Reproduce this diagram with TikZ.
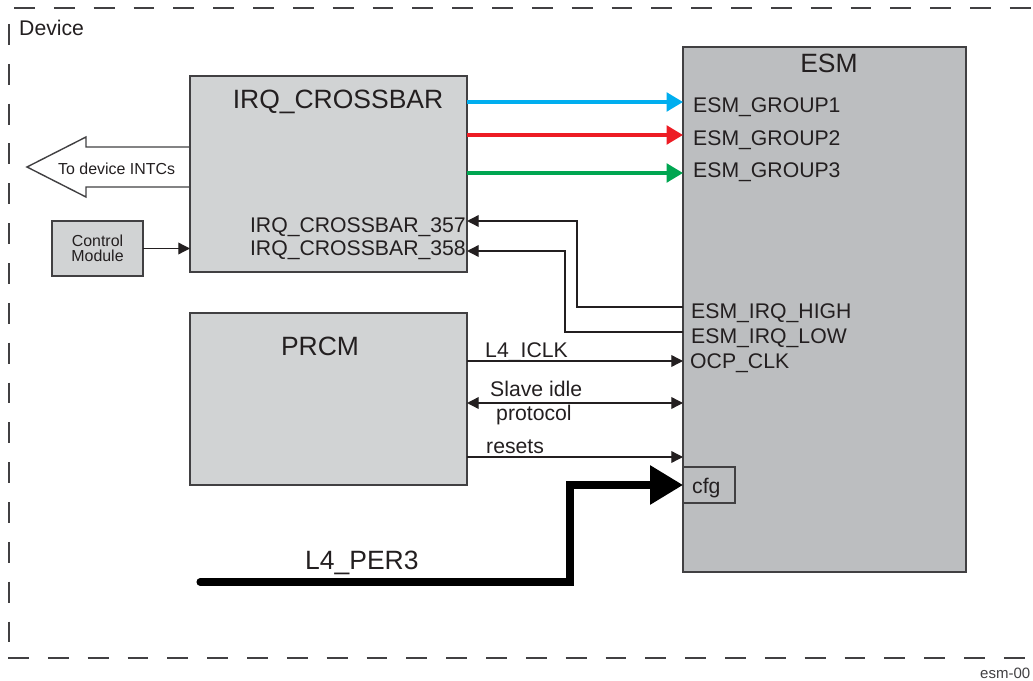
\documentclass[tikz,border=0pt]{standalone}
\usepackage{fontspec}
\setmainfont{Liberation Sans}
\usepackage{tikz}
\usetikzlibrary{arrows.meta,calc}
\definecolor{cInk}{HTML}{231F20}
\definecolor{cEdge}{HTML}{414042}
\definecolor{cGrayL}{HTML}{D1D3D4}
\definecolor{cGrayD}{HTML}{BCBEC0}
\definecolor{cBlue}{HTML}{00AEEF}
\definecolor{cRed}{HTML}{ED1C24}
\definecolor{cGreen}{HTML}{00A651}
\tikzset{
  blk/.style={draw=cEdge,fill=#1,line width=1.2pt,outer sep=0pt,inner sep=0pt},
  blk/.default=cGrayL,
  ttl/.style={inner sep=0pt,text=cInk,font=\fontsize{22.6}{24}\selectfont},
  sig/.style={inner sep=0pt,text=cInk,font=\fontsize{18.1}{20}\selectfont},
  sml/.style={inner sep=0pt,text=cInk,font=\fontsize{13.6}{13}\selectfont},
  arr/.style={-{Triangle[length=10pt,width=10pt]},line width=1.2pt,color=cInk},
  darr/.style={{Triangle[length=10pt,width=10pt]}-{Triangle[length=10pt,width=10pt]},line width=1.2pt,color=cInk},
  carr/.style={-{Triangle[length=14pt,width=16pt]},line width=2.6pt,color=#1},
  bus/.style={-{Triangle[length=28pt,width=32pt]},line width=6pt,line cap=round,color=black},
  border/.style={dash pattern=on 17.9pt off 16.1pt,line width=1.3pt,color=cEdge},
}

\begin{document}
\begin{tikzpicture}[x=0.03cm,y=-0.03cm]
    \useasboundingbox (0,0) rectangle (1033,681);
    % device frame (right side runs off the page)
    \draw[border] (14,8) -- (1040,8);
    \draw[border] (9,24) -- (9,648);
    \draw[border] (8,658) -- (1040,658);
    \node[sig,anchor=base west] (dev) at (19,36) {Device};
    \node[sml,anchor=base west,text=cEdge,font=\fontsize{12.8}{14}\selectfont] (fig) at (980,678) {esm-00};
    % blocks
    \node[blk,minimum width=8.31cm,minimum height=5.88cm] (xb) at (328.5,174) {};
    \node[blk,minimum width=8.31cm,minimum height=5.16cm] (prcm) at (328.5,399) {};
    \node[blk=cGrayD,line width=1.4pt,minimum width=8.49cm,minimum height=15.75cm] (esm) at (824.5,309.5) {};
    \node[blk,sml,align=center,minimum width=2.73cm,minimum height=1.65cm] (ctrl) at (97.5,248.5) {Control\\Module};
    \node[blk=cGrayD,minimum width=1.56cm,minimum height=1.08cm] (cfg) at (709,485) {};
    \node[ttl,anchor=base] (xbT) at (338,109) {IRQ\_CROSSBAR};
    \node[ttl,anchor=base] (prcmT) at (320,355) {PRCM};
    \node[ttl,anchor=base] (esmT) at (829,73) {ESM};
    \node[sig,anchor=base west] (cfgT) at (692,493) {cfg};
    % port labels
    \node[sig,anchor=base east] (x357) at (466,233) {IRQ\_CROSSBAR\_357};
    \node[sig,anchor=base east] (x358) at (466,256) {IRQ\_CROSSBAR\_358};
    \node[sig,anchor=base west] (g1) at (693,113) {ESM\_GROUP1};
    \node[sig,anchor=base west] (g2) at (693,146) {ESM\_GROUP2};
    \node[sig,anchor=base west] (g3) at (693,178) {ESM\_GROUP3};
    \node[sig,anchor=base west] (hi) at (691,318) {ESM\_IRQ\_HIGH};
    \node[sig,anchor=base west] (lo) at (691,343) {ESM\_IRQ\_LOW};
    \node[sig,anchor=base west] (ocp) at (690,368) {OCP\_CLK};
    \node[sig,anchor=base west] (iclk) at (485,357) {L4\_ICLK};
    \node[sig,anchor=base west] (sidle) at (490,396) {Slave idle};
    \node[sig,anchor=base west] (sprot) at (496,420) {protocol};
    \node[sig,anchor=base west] (rst) at (486,453) {resets};
    \node[ttl,anchor=base west] (per3) at (305,569) {L4\_PER3};
    % interrupt groups
    \draw[carr=cBlue] (xb.east |- 0,102) -- (esm.west |- 0,102);
    \draw[carr=cRed] (xb.east |- 0,135) -- (esm.west |- 0,135);
    \draw[carr=cGreen] (xb.east |- 0,173) -- (esm.west |- 0,173);
    % back to the crossbar
    \draw[arr] (esm.west |- 0,307) -| (577,221) -- (xb.east |- 0,221);
    \draw[arr] (esm.west |- 0,332) -| (565,251) -- (xb.east |- 0,251);
    \draw[arr] (ctrl.east) -- (xb.west |- ctrl.east);
    % prcm signals
    \draw[arr] (prcm.east |- 0,361) -- (esm.west |- 0,361);
    \draw[darr] (prcm.east |- 0,403) -- (esm.west |- 0,403);
    \draw[arr] (prcm.east |- 0,457) -- (esm.west |- 0,457);
    % hollow arrow out of the crossbar
    \draw[line width=1.2pt,draw=cEdge,line join=miter] (xb.west |- 0,147) -- (86,147) -- (86,137) -- (27,167) -- (86,197) -- (86,187) -- (xb.west |- 0,187);
    \node[sml,anchor=base west] (intc) at (58,175) {To device INTCs};
    % config bus
    \coordinate (per) at (200,582);
    \draw[bus] (per) -| ($(cfg.west)+(-113,0)$) -- (cfg.west);
  \end{tikzpicture}
\end{document}
